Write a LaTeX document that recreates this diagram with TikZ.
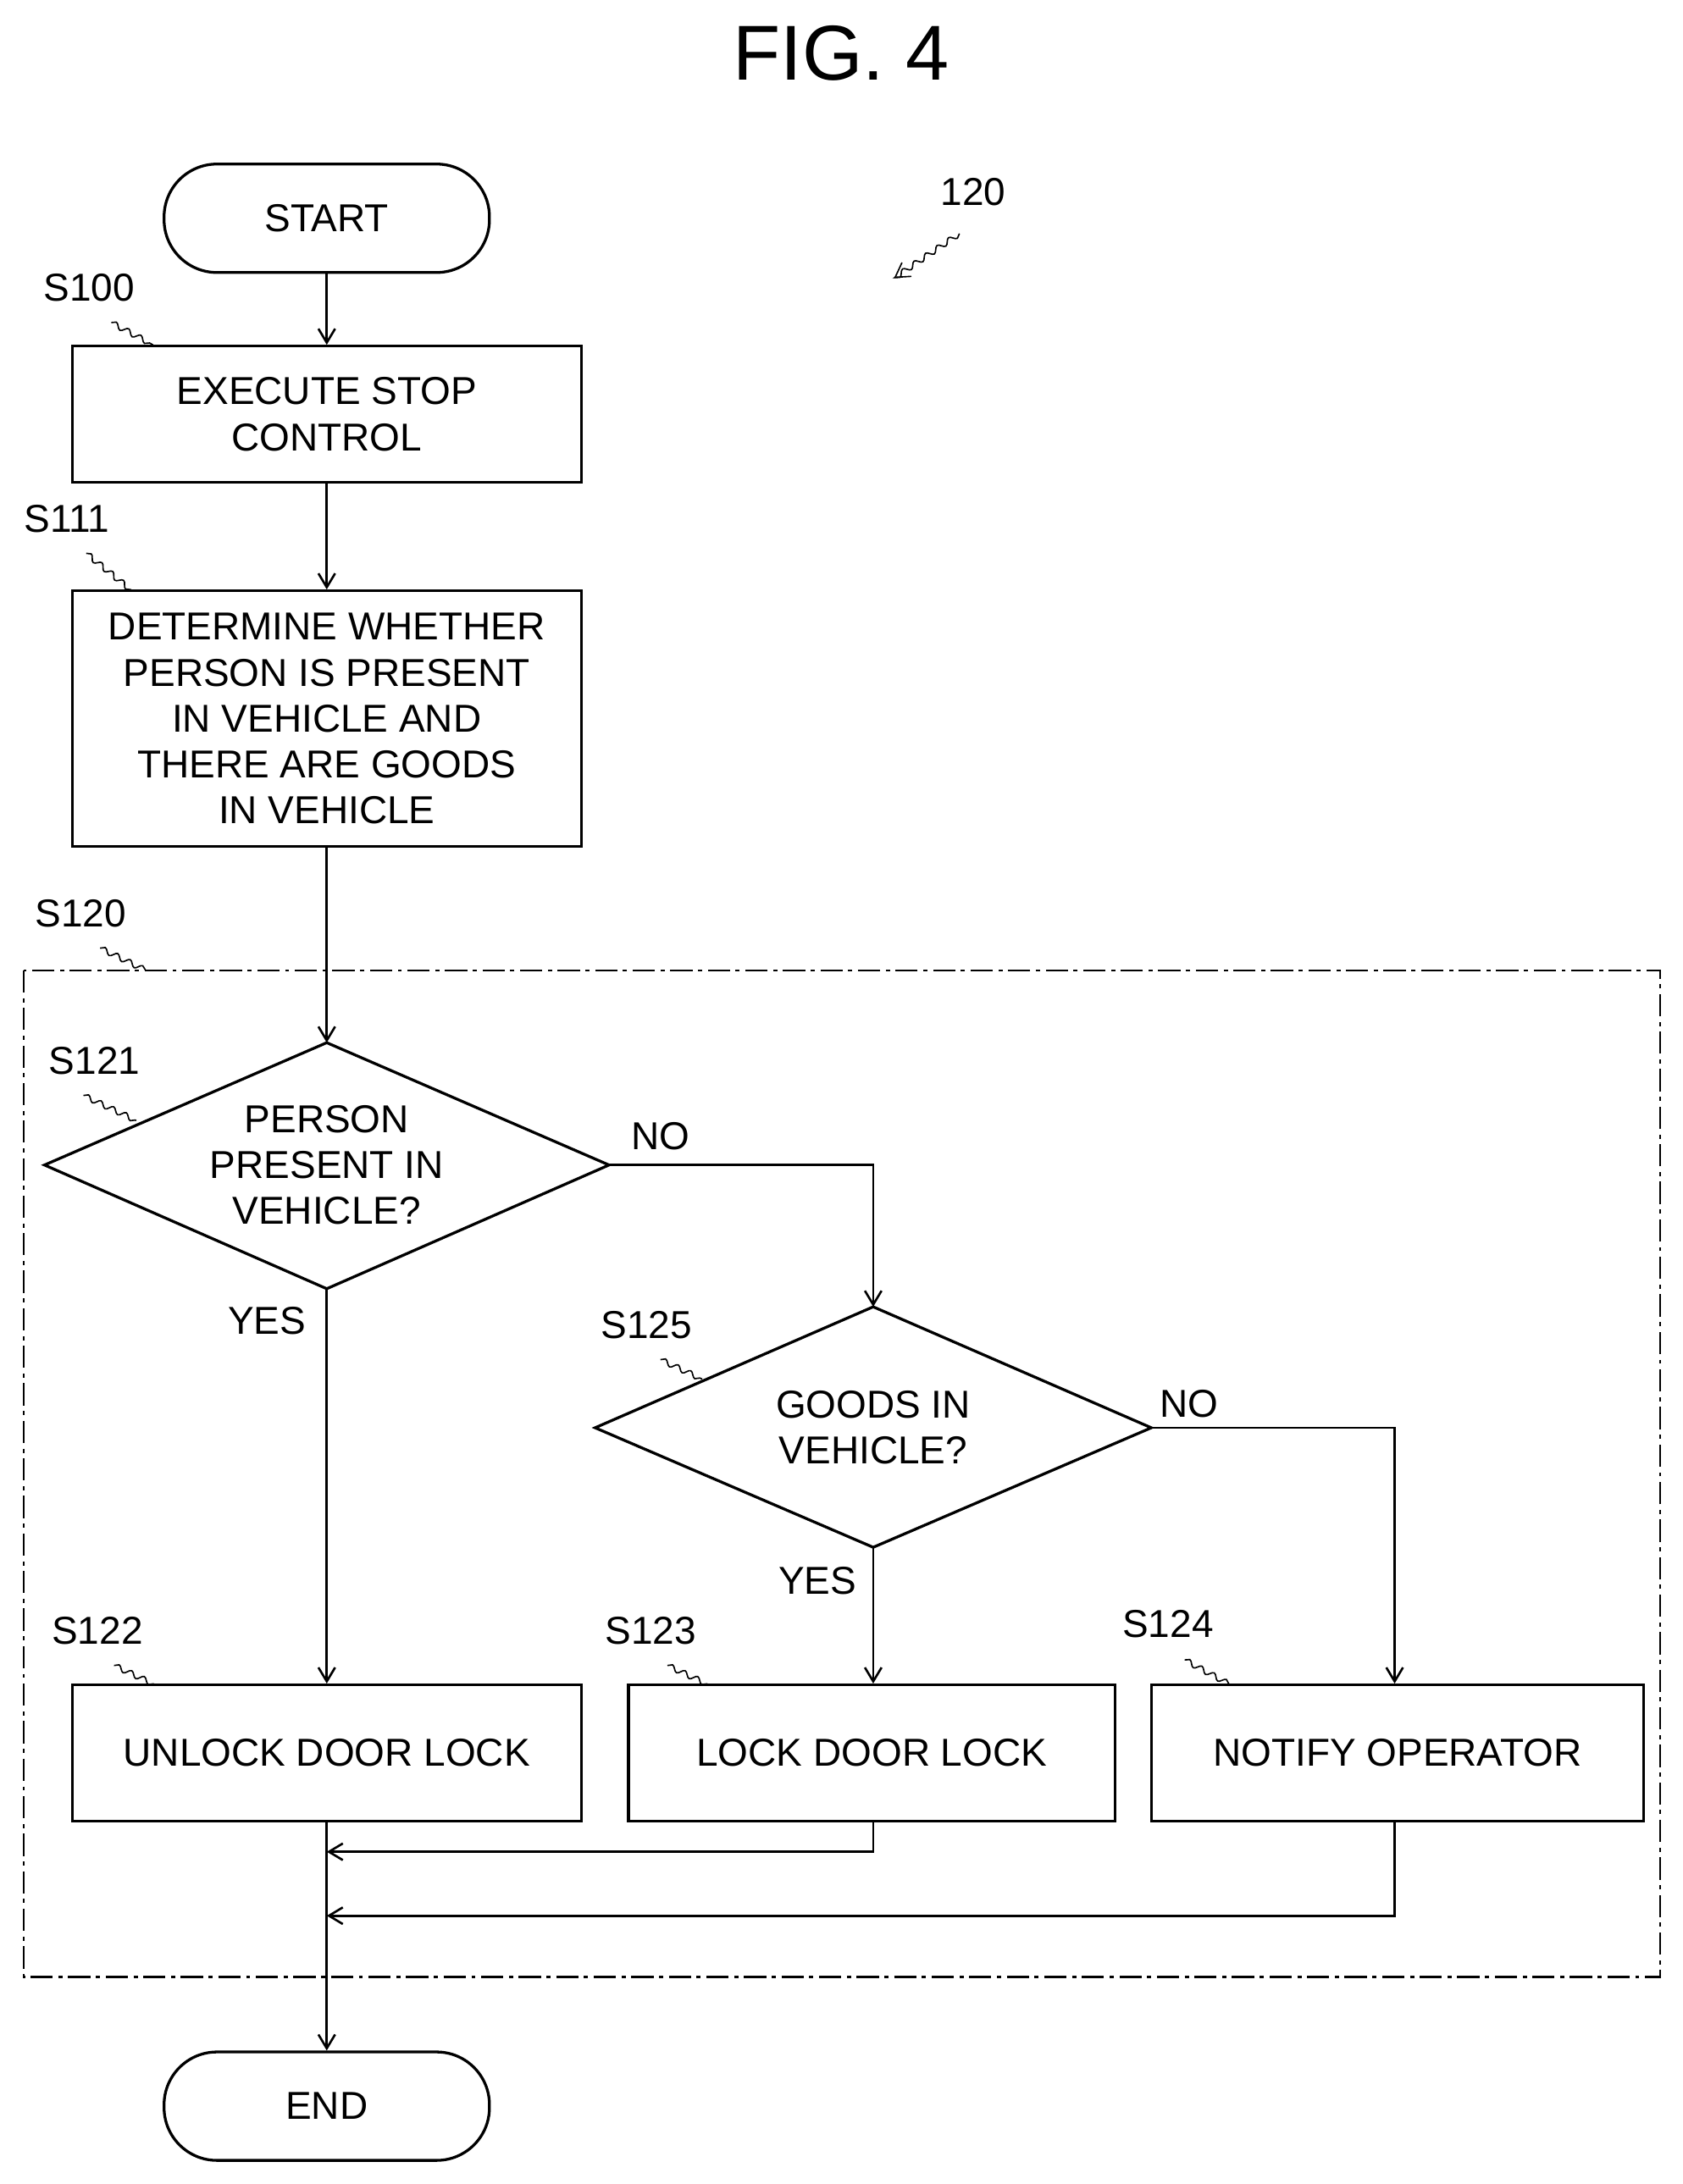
\documentclass[tikz,border=0pt]{standalone}
\usepackage{fontspec}
\setmainfont{Liberation Sans}
\usetikzlibrary{shapes.geometric,arrows.meta,decorations.pathmorphing}
\begin{document}
\begin{tikzpicture}[x=0.5pt,y=-0.5pt,
  every node/.style={font=\fontsize{14}{16.5}\selectfont},
  box/.style={draw,line width=1pt,minimum width=183pt,minimum height=49pt,align=center,inner sep=0pt},
  term/.style={draw,line width=1pt,rounded corners=19pt,minimum width=117pt,minimum height=39pt},
  dia/.style={draw,line width=1pt,diamond,aspect=2.3,inner sep=0pt,align=center},
  lbl/.style={font=\fontsize{14}{16}\selectfont},
  sq/.style={line width=0.5pt,decorate,decoration={snake,amplitude=1pt,segment length=5pt}},
  ln/.style={line width=0.8pt},
  ar/.style={ln,-{Straight Barb[length=5pt,width=6pt]}}]
\useasboundingbox (0,0) rectangle (1210,1571);
\node[font=\fontsize{28}{30}\selectfont] (title) at (605,38) {FIG. 4};
\node[term] (start) at (235,157) {START};
\node[box] (s100) at (235,298) {EXECUTE STOP\\CONTROL};
\node[box,minimum height=92pt] (s111) at (235,517) {DETERMINE WHETHER\\PERSON IS PRESENT\\IN VEHICLE AND\\THERE ARE GOODS\\IN VEHICLE};
\draw[line width=0.8pt,dash pattern=on 8pt off 2pt on 1.5pt off 2pt] (17,698) rectangle (1194,1422);
\path[draw,line width=1pt] (235,750) coordinate (d1t) -- (438,838) coordinate (d1r) -- (235,927) coordinate (d1b) -- (32,838) -- cycle;
\node[align=center] (d1) at (235,838) {PERSON\\PRESENT IN\\VEHICLE?};
\path[draw,line width=1pt] (628,940) coordinate (d2t) -- (828,1027) coordinate (d2r) -- (628,1113) coordinate (d2b) -- (428,1027) -- cycle;
\node[align=center] (d2) at (628,1027) {GOODS IN\\VEHICLE?};
\node[box] (s122) at (235,1261) {UNLOCK DOOR LOCK};
\node[box,minimum width=175pt] (s123) at (627,1261) {LOCK DOOR LOCK};
\node[box,minimum width=177pt] (s124) at (1005,1261) {NOTIFY OPERATOR};
\node[term] (end) at (235,1515) {END};
\draw[ar] (start) -- (s100);
\draw[ar] (s100) -- (s111);
\draw[ar] (s111) -- (d1t);
\draw[ar] (d1r) -- (628,838) -- (d2t);
\draw[ar] (d1b) -- (s122);
\draw[ar] (d2b) -- (s123.north -| d2b);
\draw[ar] (d2r) -- (1003,1027) -- (s124.north -| 1003,0);
\coordinate (j1) at (235,1332); \coordinate (j2) at (235,1378);
\draw[ar] (s123.south -| 628,0) |- (j1);
\draw[ar] (s124.south -| 1003,0) |- (j2);
\draw[ar] (s122) -- (end);
\node[lbl] (l100) at (64,207) {S100}; \draw[sq] (80,232) -- (110,248);
\node[lbl] (l111) at (48,373) {S111}; \draw[sq] (62,398) -- (95,425);
\node[lbl] (l120) at (58,657) {S120}; \draw[sq] (72,682) -- (105,698);
\node[lbl] (l121) at (68,763) {S121}; \draw[sq] (60,788) -- (98,806);
\node[lbl] (l125) at (465,953) {S125}; \draw[sq] (475,978) -- (505,992);
\node[lbl] (l122) at (70,1173) {S122}; \draw[sq] (82,1198) -- (112,1212);
\node[lbl] (l123) at (468,1173) {S123}; \draw[sq] (480,1198) -- (510,1212);
\node[lbl] (l124) at (840,1168) {S124}; \draw[sq] (852,1194) -- (885,1212);
\node[lbl] (n1) at (475,817) {NO};
\node[lbl] (n2) at (855,1010) {NO};
\node[lbl] (y1) at (192,950) {YES};
\node[lbl] (y2) at (588,1137) {YES};
\node[lbl] (l120b) at (700,138) {120};
\draw[sq,-{Straight Barb[length=5pt,width=6pt]}] (690,168) -- (643,200);
\end{tikzpicture}
\end{document}
